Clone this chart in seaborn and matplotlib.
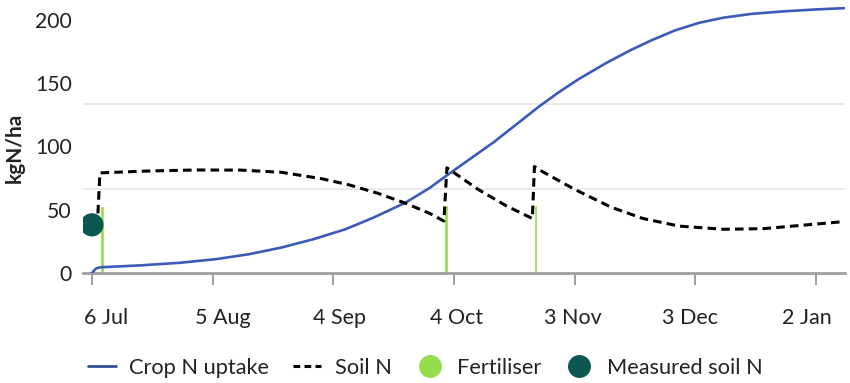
import numpy as np
import pandas as pd
import matplotlib
matplotlib.use("Agg")
import matplotlib.pyplot as plt
import matplotlib.dates as mdates
from matplotlib.lines import Line2D
from matplotlib.ticker import FixedLocator, FixedFormatter, NullFormatter
import seaborn as sns

# crop N uptake (kgN/ha)
crop_dates = ["2023-07-06", "2023-07-07", "2023-07-08", "2023-07-18", "2023-07-28",
              "2023-08-06", "2023-08-14", "2023-08-22", "2023-08-30", "2023-09-07",
              "2023-09-14", "2023-09-22", "2023-09-28", "2023-10-02", "2023-10-08",
              "2023-10-14", "2023-10-20", "2023-10-25", "2023-10-30", "2023-11-04",
              "2023-11-11", "2023-11-17", "2023-11-22", "2023-11-28", "2023-12-04",
              "2023-12-10", "2023-12-17", "2023-12-25", "2024-01-02", "2024-01-09"]
crop_n = [0, 3.5, 4.5, 6, 8.1,
          11, 14.8, 20, 26.6, 34.5,
          43.7, 55.6, 67.2, 76.5, 90,
          103.5, 118.5, 131, 142.5, 153,
          166, 176, 183.5, 191.5, 197.5,
          201.5, 204.5, 206.5, 208, 209]

# soil N (kgN/ha)
soil_dates = ["2023-07-07 12:00", "2023-07-08 00:00", "2023-07-20 00:00", "2023-08-01 00:00", "2023-08-12 00:00",
              "2023-08-22 00:00", "2023-09-01 00:00", "2023-09-08 00:00", "2023-09-15 00:00", "2023-09-22 00:00",
              "2023-09-28 00:00", "2023-10-01 12:00", "2023-10-02 06:00", "2023-10-10 00:00", "2023-10-17 00:00",
              "2023-10-23 12:00", "2023-10-24 00:00", "2023-10-26 00:00", "2023-11-03 00:00", "2023-11-12 00:00",
              "2023-11-20 00:00", "2023-11-29 00:00", "2023-12-10 00:00", "2023-12-20 00:00", "2023-12-30 00:00",
              "2024-01-08 00:00"]
soil_n = [47, 79, 80.5, 81.3, 81.2,
          79.5, 74.5, 69.5, 63, 55,
          47, 41, 83, 66, 53,
          43, 84, 80, 66, 52,
          43, 37, 34.5, 35, 37.8,
          40.3]

fert_dates = ["2023-07-08 12:00", "2023-10-02 00:00", "2023-10-24 06:00"]
fert_n = [53, 54, 54]

measured_dates = ["2023-07-06"]
measured_n = [38]

tick_dates = ["2023-07-06", "2023-08-05", "2023-09-04", "2023-10-04",
              "2023-11-03", "2023-12-03", "2024-01-02"]
tick_labels = ["6 Jul", "5 Aug", "4 Sep", "4 Oct", "3 Nov", "3 Dec", "2 Jan"]
y_labels = [0, 50, 100, 150, 200]
grid_levels = [0, 200 / 3, 400 / 3, 200]

BLUE = "#3a5cb8"
GREEN = "#97dc4c"
TEAL = "#0b5752"
GREY = "#9e9e9e"
TXT = "#222222"

sns.set_theme(style="white")
plt.rcParams['font.family'] = ['Lato', 'DejaVu Sans']

fig = plt.figure(figsize=(8.5, 3.83), dpi=100)
ax = fig.add_axes([83 / 850, 1 - 273 / 383, 762 / 850, 268 / 383])

crop = pd.DataFrame({"date": pd.to_datetime(crop_dates, format="ISO8601"), "n": crop_n})
soil = pd.DataFrame({"date": pd.to_datetime(soil_dates, format="ISO8601"), "n": soil_n})
meas = pd.DataFrame({"date": pd.to_datetime(measured_dates, format="ISO8601"), "n": measured_n})

ax.bar(pd.to_datetime(fert_dates, format="ISO8601"), fert_n, width=0.8, color=GREEN, zorder=2)
sns.lineplot(data=crop, x="date", y="n", ax=ax, color=BLUE, lw=1.9, zorder=3)
sns.lineplot(data=soil, x="date", y="n", ax=ax, color="black", lw=2.2,
             linestyle=(0, (2.8, 1.7)), zorder=4)
sns.scatterplot(data=meas, x="date", y="n", ax=ax, s=280, color=TEAL,
                edgecolor="none", zorder=5)

ax.set_xlim(pd.Timestamp("2023-07-03 19:00"), pd.Timestamp("2024-01-09 05:00"))
ax.set_ylim(0, 211.5)

# tick marks at the dates, labels drawn at their own (slightly shifted) spots
tick_num = mdates.date2num(pd.to_datetime(tick_dates))
label_num = tick_num + np.linspace(3.45, -2.3, len(tick_num))
ax.xaxis.set_major_locator(FixedLocator(tick_num))
ax.xaxis.set_major_formatter(NullFormatter())
ax.xaxis.set_minor_locator(FixedLocator(label_num))
ax.xaxis.set_minor_formatter(FixedFormatter(tick_labels))
ax.tick_params(axis='x', which='major', length=8.6, width=1.4, color=GREY, direction='out', bottom=True)
ax.tick_params(axis='x', which='minor', length=0, pad=25.5, labelsize=15.5, labelcolor=TXT, bottom=True)

ax.yaxis.set_major_locator(FixedLocator(y_labels))
ax.yaxis.set_minor_locator(FixedLocator(grid_levels))
ax.yaxis.set_minor_formatter(NullFormatter())
ax.tick_params(axis='y', which='both', length=0, pad=8, labelsize=15.2, labelcolor=TXT)
ax.grid(False)
ax.grid(True, which='minor', axis='y', color='#e8e8e8', lw=1.3, zorder=0)
ax.set_axisbelow(True)

for s in ["top", "right", "left"]:
    ax.spines[s].set_visible(False)
ax.spines["bottom"].set_color(GREY)
ax.spines["bottom"].set_linewidth(2)

ax.set_xlabel("")
ax.set_ylabel("kgN/ha", fontsize=15, fontweight="bold", color=TXT)
ax.yaxis.set_label_coords(-0.076, 0.466)

handles = [
    Line2D([], [], color="#2f4f98", lw=2),
    Line2D([], [], color="black", lw=2.2, linestyle=(0, (2.2, 1.4))),
    Line2D([], [], color=GREEN, marker="o", ls="none", markersize=15.5),
    Line2D([], [], color=TEAL, marker="o", ls="none", markersize=15.5),
]
fig.legend(handles, ["Crop N uptake", "Soil N", "Fertiliser", "Measured soil N"],
           loc="center", bbox_to_anchor=(0.5, 1 - 368 / 383), ncol=4, frameon=False,
           fontsize=15.7, handlelength=1.3, handletextpad=0.6, columnspacing=1.1,
           labelcolor=TXT)

fig.savefig("out.png", dpi=100)
